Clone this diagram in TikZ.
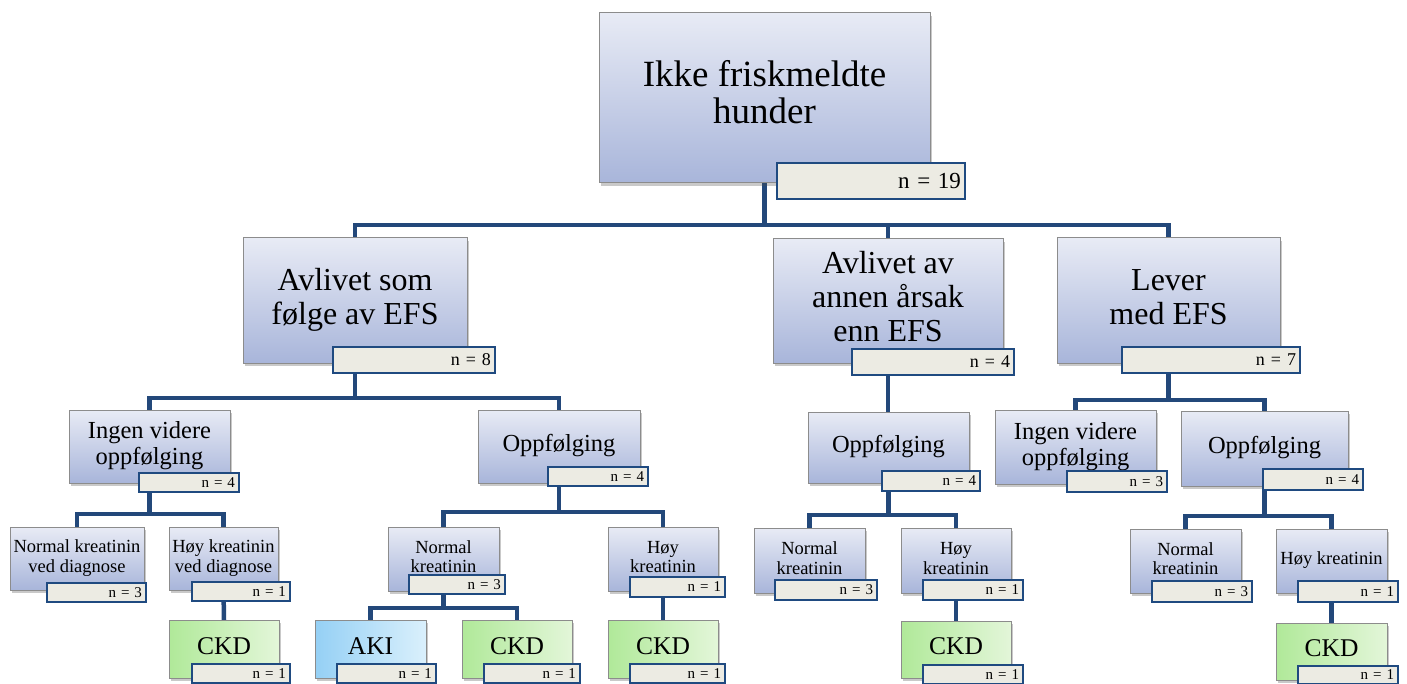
\documentclass[tikz,border=0pt]{standalone}
\usepackage{fontspec}
\setmainfont{Liberation Serif}
\usetikzlibrary{shadows}
\definecolor{boxtop}{HTML}{E8EBF5}
\definecolor{boxbot}{HTML}{A8B5DA}
\definecolor{boxedge}{HTML}{8C8C8C}
\definecolor{conncol}{HTML}{23487A}
\definecolor{nedge}{HTML}{1F4A80}
\definecolor{nfill}{HTML}{ECEBE3}
\definecolor{greenL}{HTML}{B0E999}
\definecolor{greenR}{HTML}{E3F6D9}
\definecolor{blueL}{HTML}{95D0F5}
\definecolor{blueR}{HTML}{DAF0FC}
\pgfdeclarelayer{bg}
\pgfsetlayers{bg,main}
\tikzset{
  base/.style={draw=boxedge, line width=1pt, inner sep=0pt, outer sep=0pt,
    drop shadow={shadow xshift=2pt, shadow yshift=-3pt, opacity=0.3, fill=black!70}},
  bluebox/.style={base, top color=boxtop, bottom color=boxbot},
  greenbox/.style={base, left color=greenL, right color=greenR},
  akibox/.style={base, left color=blueL, right color=blueR},
  nbox/.style={draw=nedge, line width=2.5pt, fill=nfill, inner xsep=4pt, inner ysep=0pt, outer sep=0pt, align=right},
  conn/.style={draw=conncol, line width=4.5pt},
  fA/.style={font=\fontsize{37}{37}\selectfont},
  fB/.style={font=\fontsize{32}{34}\selectfont},
  fC/.style={font=\fontsize{24.5}{26}\selectfont},
  fD/.style={font=\fontsize{18.5}{19.5}\selectfont},
  fE/.style={font=\fontsize{25.5}{26}\selectfont},
  nA/.style={font=\fontsize{23}{23}\selectfont},
  nB/.style={font=\fontsize{18}{18}\selectfont},
  nC/.style={font=\fontsize{15}{15}\selectfont},
}
\newcommand\bx[7]{%
  \pgfmathsetlengthmacro\bw{(#4-#2)*1pt}%
  \pgfmathsetlengthmacro\bh{(#5-#3)*1pt}%
  \node[#6, anchor=north west, minimum width=\bw, minimum height=\bh] (#1) at (#2,#3)
    {\begin{tabular}{@{}c@{}}#7\end{tabular}};}
\newcommand\nb[7]{%
  \pgfmathsetlengthmacro\bw{(#4-#2)*1pt}%
  \pgfmathsetlengthmacro\bh{(#5-#3)*1pt}%
  \pgfmathsetlengthmacro\tw{(#4-#2-8)*1pt}%
  \node[nbox, #6, anchor=north west, minimum width=\bw, minimum height=\bh, text width=\tw] (#1) at (#2,#3) {#7};}
\begin{document}
\begin{tikzpicture}[x=1pt, y=-1pt]
\useasboundingbox (0,0) rectangle (1407,684);
% level 0
\bx{root}{599}{13}{930}{183}{bluebox,fA}{Ikke friskmeldte\\hunder}
% level 1
\bx{avs}{243}{238}{467}{363}{bluebox,fB}{Avlivet som\\følge av EFS}
\bx{ava}{773}{239}{1003}{363}{bluebox,fB}{Avlivet av\\annen årsak\\enn EFS}
\bx{lev}{1057}{238}{1280}{363}{bluebox,fB}{Lever\\med EFS}
% level 2
\bx{ing1}{69}{410}{230}{483}{bluebox,fC}{Ingen videre\\oppfølging}
\bx{opp1}{478}{410}{640}{483}{bluebox,fC}{Oppfølging}
\bx{opp2}{808}{412}{969}{483}{bluebox,fC}{Oppfølging}
\bx{ing3}{995}{410}{1156}{484}{bluebox,fC}{Ingen videre\\oppfølging}
\bx{opp3}{1181}{411}{1348}{486}{bluebox,fC}{Oppfølging}
% level 3
\bx{nkd}{10}{527}{144}{590}{bluebox,fD}{Normal kreatinin\\ved diagnose}
\bx{hkd}{169}{527}{278}{590}{bluebox,fD}{Høy kreatinin\\ved diagnose}
\bx{nk1}{388}{527}{499}{591}{bluebox,fD}{Normal\\kreatinin}
\bx{hk1}{608}{527}{718}{591}{bluebox,fD}{Høy\\kreatinin}
\bx{nk2}{754}{528}{865}{593}{bluebox,fD}{Normal\\kreatinin}
\bx{hk2}{901}{528}{1011}{593}{bluebox,fD}{Høy\\kreatinin}
\bx{nk3}{1130}{529}{1241}{593}{bluebox,fD}{Normal\\kreatinin}
\bx{hk3}{1276}{529}{1387}{593}{bluebox,fD}{Høy kreatinin}
% level 4
\bx{ckd0}{169}{620}{279}{678}{greenbox,fE}{CKD}
\bx{aki}{315}{620}{426}{678}{akibox,fE}{AKI}
\bx{ckd1}{462}{620}{572}{678}{greenbox,fE}{CKD}
\bx{ckd2}{608}{620}{718}{678}{greenbox,fE}{CKD}
\bx{ckd3}{901}{621}{1011}{678}{greenbox,fE}{CKD}
\bx{ckd4}{1276}{623}{1387}{680}{greenbox,fE}{CKD}
% n boxes
\nb{rootn}{777}{163}{965}{199}{nA}{n = 19}
\nb{avsn}{333}{347}{495}{373}{nB}{n = 8}
\nb{avan}{852}{349}{1014}{375}{nB}{n = 4}
\nb{levn}{1122}{347}{1300}{373}{nB}{n = 7}
\nb{ing1n}{139}{473}{239}{492}{nC}{n = 4}
\nb{opp1n}{548}{467}{648}{486}{nC}{n = 4}
\nb{opp2n}{882}{471}{980}{491}{nC}{n = 4}
\nb{ing3n}{1067}{471}{1167}{492}{nC}{n = 3}
\nb{opp3n}{1263}{469}{1363}{490}{nC}{n = 4}
\nb{nkdn}{47}{583}{146}{602}{nC}{n = 3}
\nb{hkdn}{192}{582}{290}{601}{nC}{n = 1}
\nb{nk1n}{409}{575}{505}{594}{nC}{n = 3}
\nb{hk1n}{630}{577}{725}{597}{nC}{n = 1}
\nb{nk2n}{775}{580}{877}{600}{nC}{n = 3}
\nb{hk2n}{923}{580}{1023}{600}{nC}{n = 1}
\nb{nk3n}{1152}{581}{1252}{602}{nC}{n = 3}
\nb{hk3n}{1298}{581}{1398}{602}{nC}{n = 1}
\nb{ckd0n}{192}{664}{290}{683}{nC}{n = 1}
\nb{akin}{337}{664}{436}{683}{nC}{n = 1}
\nb{ckd1n}{484}{664}{580}{683}{nC}{n = 1}
\nb{ckd2n}{630}{664}{725}{683}{nC}{n = 1}
\nb{ckd3n}{923}{665}{1023}{684}{nC}{n = 1}
\nb{ckd4n}{1298}{666}{1398}{684}{nC}{n = 1}
% connectors
\begin{pgfonlayer}{bg}
\draw[conn] (root.south) -- (root.south |- 0,225) -| (avs.north);
\draw[conn] (root.south |- 0,225) -| (ava.north);
\draw[conn] (root.south |- 0,225) -| (lev.north);
\draw[conn] (avs.south) -- (avs.south |- 0,398) -| (ing1.north);
\draw[conn] (avs.south |- 0,398) -| (opp1.north);
\draw[conn] (ava.south) -- (opp2.north -| ava.south);
\draw[conn] (lev.south) -- (lev.south |- 0,400) -| (ing3.north);
\draw[conn] (lev.south |- 0,400) -| (opp3.north);
\draw[conn] (ing1.south) -- (ing1.south |- 0,514) -| (nkd.north);
\draw[conn] (ing1.south |- 0,514) -| (hkd.north);
\draw[conn] (opp1.south) -- (opp1.south |- 0,512) -| (nk1.north);
\draw[conn] (opp1.south |- 0,512) -| (hk1.north);
\draw[conn] (opp2.south) -- (opp2.south |- 0,515) -| (nk2.north);
\draw[conn] (opp2.south |- 0,515) -| (hk2.north);
\draw[conn] (opp3.south) -- (opp3.south |- 0,516) -| (nk3.north);
\draw[conn] (opp3.south |- 0,516) -| (hk3.north);
\draw[conn] (hkd.south) -- (ckd0.north);
\draw[conn] (nk1.south) -- (nk1.south |- 0,608) -| (aki.north);
\draw[conn] (nk1.south |- 0,608) -| (ckd1.north);
\draw[conn] (hk1.south) -- (ckd2.north);
\draw[conn] (hk2.south) -- (ckd3.north);
\draw[conn] (hk3.south) -- (ckd4.north);
\end{pgfonlayer}
\end{tikzpicture}
\end{document}
